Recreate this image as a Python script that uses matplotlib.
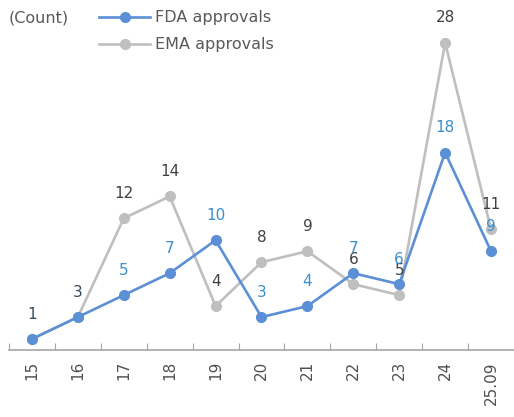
import matplotlib.pyplot as plt
from matplotlib.lines import Line2D

years = ['15', '16', '17', '18', '19', '20', '21', '22', '23', '24', '25.09']
fda = [1, 3, 5, 7, 10, 3, 4, 7, 6, 18, 9]
ema = [1, 3, 12, 14, 4, 8, 9, 6, 5, 28, 11]

fda_color = '#5B8FD6'
ema_color = '#BFBFBF'

fig = plt.figure(figsize=(5.14, 4.17), dpi=100)
ax = fig.add_axes([0.0175, 0.1607, 0.9825, 0.7893])

x = list(range(len(years)))
ax.plot(x, ema, color=ema_color, lw=1.9, marker='o', ms=7, zorder=2)
ax.plot(x, fda, color=fda_color, lw=1.9, marker='o', ms=7, zorder=3)

# labels above points
for i, v in enumerate(ema):
    c = '#34495E' if i < 2 else '#404040'
    ax.annotate(str(v), (i, v), xytext=(0, 18), textcoords='offset points',
                ha='center', va='center', fontsize=11, color=c)
for i, v in enumerate(fda):
    if i < 2:
        continue
    ax.annotate(str(v), (i, v), xytext=(0, 18), textcoords='offset points',
                ha='center', va='center', fontsize=11, color='#3A8FD0')

ax.set_xlim(-0.5, 10.5)
ax.set_ylim(0, 30)
ax.set_xticks([i - 0.5 for i in range(11)])
ax.set_xticklabels([])
ax.set_xticks(x, minor=True)
ax.set_xticklabels(years, minor=True, rotation=90, fontsize=11, color='#505050')
ax.tick_params(axis='x', which='major', direction='in', length=5, color='#A6A6A6')
ax.tick_params(axis='x', which='minor', length=0, pad=8)
ax.set_yticks([])
for s in ['top', 'right', 'left']:
    ax.spines[s].set_visible(False)
ax.spines['bottom'].set_color('#A6A6A6')
ax.spines['bottom'].set_linewidth(1.2)

fig.text(0.016, 0.958, '(Count)', fontsize=11.5, color='#595959', va='center')
handles = [Line2D([], [], color=fda_color, lw=1.9, marker='o', ms=7),
           Line2D([], [], color=ema_color, lw=1.9, marker='o', ms=7)]
leg = fig.legend(handles, ['FDA approvals', 'EMA approvals'], loc='upper left',
                 bbox_to_anchor=(0.165, 1.01), frameon=False, fontsize=11.5,
                 handlelength=3.2, handletextpad=0.3, labelspacing=0.75)
for t in leg.get_texts():
    t.set_color('#595959')

fig.savefig('out.png', dpi=100)
